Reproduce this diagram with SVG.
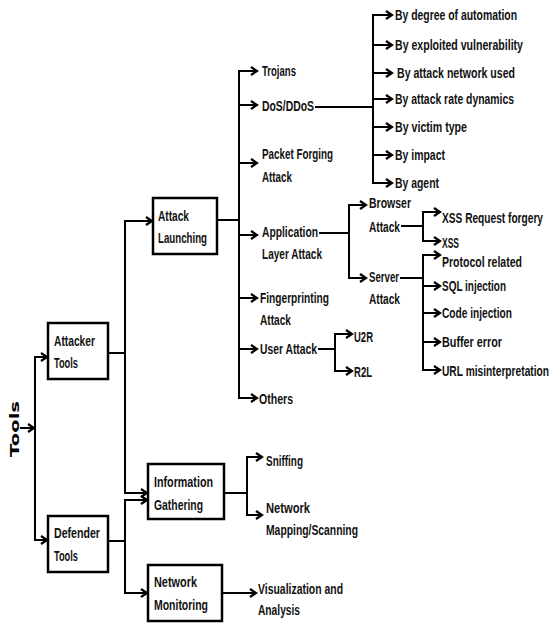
<svg xmlns="http://www.w3.org/2000/svg" width="551" height="625" viewBox="0 0 551 625">
<style>
text{font-family:"Liberation Sans",Arial,sans-serif;font-weight:bold;font-size:15px;fill:#111}
.box{fill:#fff;stroke:#000;stroke-width:2.5}
.c path{fill:none;stroke:#000;stroke-width:2}
</style>
<defs>
<marker id="ah" markerUnits="userSpaceOnUse" markerWidth="12" markerHeight="12" refX="8" refY="5" orient="auto">
<path d="M2,1 L8,5 L2,9" fill="none" stroke="#000" stroke-width="2.2"/>
</marker>
</defs>
<rect width="551" height="625" fill="#fff"/>
<g class="c" id="connectors">
<path d="M20,428 H34" marker-end="url(#ah)"/>
<path d="M35,428 V357 H47" marker-end="url(#ah)"/>
<path d="M35,428 V540 H47" marker-end="url(#ah)"/>
<path d="M108,353 H125 V221 H152" marker-end="url(#ah)"/>
<path d="M125,353 V493 H147" marker-end="url(#ah)"/>
<path d="M108,541 H125 V500 H147" marker-end="url(#ah)"/>
<path d="M125,541 V593 H147" marker-end="url(#ah)"/>
<path d="M217,220 H239 V71 H257" marker-end="url(#ah)"/>
<path d="M239,220 V398 H257" marker-end="url(#ah)"/>
<path d="M239,105 H257" marker-end="url(#ah)"/>
<path d="M239,163 H257" marker-end="url(#ah)"/>
<path d="M239,235 H257" marker-end="url(#ah)"/>
<path d="M239,298 H257" marker-end="url(#ah)"/>
<path d="M239,349 H257" marker-end="url(#ah)"/>
<path d="M315,107 H373 V15 H392" marker-end="url(#ah)"/>
<path d="M373,107 V183 H392" marker-end="url(#ah)"/>
<path d="M373,45 H392" marker-end="url(#ah)"/>
<path d="M373,73 H392" marker-end="url(#ah)"/>
<path d="M373,99 H392" marker-end="url(#ah)"/>
<path d="M373,127 H392" marker-end="url(#ah)"/>
<path d="M373,155 H392" marker-end="url(#ah)"/>
<path d="M319,233 H349 V205 H366" marker-end="url(#ah)"/>
<path d="M349,233 V278 H366" marker-end="url(#ah)"/>
<path d="M401,226 H423 V212 H440" marker-end="url(#ah)"/>
<path d="M423,226 V241 H440" marker-end="url(#ah)"/>
<path d="M400,278 H423 V255 H440" marker-end="url(#ah)"/>
<path d="M423,278 V370 H440" marker-end="url(#ah)"/>
<path d="M423,286 H440" marker-end="url(#ah)"/>
<path d="M423,313 H440" marker-end="url(#ah)"/>
<path d="M423,342 H440" marker-end="url(#ah)"/>
<path d="M318,349 H335 V334 H352" marker-end="url(#ah)"/>
<path d="M335,349 V371 H352" marker-end="url(#ah)"/>
<path d="M224,493 H247 V457 H262" marker-end="url(#ah)"/>
<path d="M247,493 V515 H262" marker-end="url(#ah)"/>
<path d="M222,593 H256" marker-end="url(#ah)"/>
</g>
<g id="tools"><text transform="translate(18.5,429) rotate(-90)" text-anchor="middle" style="font-family:'DejaVu Sans',sans-serif;font-weight:900;font-size:12px;fill:#000" textLength="56" lengthAdjust="spacingAndGlyphs">Tools</text></g>
<g id="attacker"><rect class="box" x="48" y="323" width="60" height="56"/><text x="54" y="346" textLength="41" lengthAdjust="spacingAndGlyphs">Attacker</text><text x="54" y="368" textLength="24" lengthAdjust="spacingAndGlyphs">Tools</text></g>
<g id="defender"><rect class="box" x="48" y="516" width="60" height="56"/><text x="54" y="538" textLength="46" lengthAdjust="spacingAndGlyphs">Defender</text><text x="54" y="561" textLength="24" lengthAdjust="spacingAndGlyphs">Tools</text></g>
<g id="attack-launching"><rect class="box" x="153" y="198" width="64" height="56"/><text x="158" y="221" textLength="31" lengthAdjust="spacingAndGlyphs">Attack</text><text x="158" y="243" textLength="49" lengthAdjust="spacingAndGlyphs">Launching</text></g>
<g id="info-gathering"><rect class="box" x="148" y="464" width="76" height="55"/><text x="154" y="487" textLength="59" lengthAdjust="spacingAndGlyphs">Information</text><text x="154" y="510" textLength="49" lengthAdjust="spacingAndGlyphs">Gathering</text></g>
<g id="network-monitoring"><rect class="box" x="148" y="565" width="74" height="56"/><text x="154" y="587" textLength="43" lengthAdjust="spacingAndGlyphs">Network</text><text x="154" y="610" textLength="54" lengthAdjust="spacingAndGlyphs">Monitoring</text></g>
<g id="trojans"><text x="262" y="76" textLength="34" lengthAdjust="spacingAndGlyphs">Trojans</text></g>
<g id="dos"><text x="262" y="111" textLength="52" lengthAdjust="spacingAndGlyphs">DoS/DDoS</text></g>
<g id="packet-forging"><text x="262" y="159" textLength="71" lengthAdjust="spacingAndGlyphs">Packet Forging</text><text x="262" y="182" textLength="30" lengthAdjust="spacingAndGlyphs">Attack</text></g>
<g id="application"><text x="262" y="237" textLength="56" lengthAdjust="spacingAndGlyphs">Application</text><text x="262" y="259" textLength="60" lengthAdjust="spacingAndGlyphs">Layer Attack</text></g>
<g id="fingerprinting"><text x="260" y="303" textLength="69" lengthAdjust="spacingAndGlyphs">Fingerprinting</text><text x="260" y="325" textLength="31" lengthAdjust="spacingAndGlyphs">Attack</text></g>
<g id="user-attack"><text x="260" y="354" textLength="57" lengthAdjust="spacingAndGlyphs">User Attack</text></g>
<g id="others"><text x="259" y="404" textLength="34" lengthAdjust="spacingAndGlyphs">Others</text></g>
<g id="by-automation"><text transform="translate(395,20) scale(0.68,1)" textLength="179.4" lengthAdjust="spacingAndGlyphs">By degree of automation</text></g>
<g id="by-vulnerability"><text transform="translate(395,50) scale(0.68,1)" textLength="188.2" lengthAdjust="spacingAndGlyphs">By exploited vulnerability</text></g>
<g id="by-network"><text transform="translate(397,78) scale(0.68,1)" textLength="173.5" lengthAdjust="spacingAndGlyphs">By attack network used</text></g>
<g id="by-rate"><text transform="translate(395,104) scale(0.68,1)" textLength="175" lengthAdjust="spacingAndGlyphs">By attack rate dynamics</text></g>
<g id="by-victim"><text transform="translate(395,132) scale(0.68,1)" textLength="105.9" lengthAdjust="spacingAndGlyphs">By victim type</text></g>
<g id="by-impact"><text transform="translate(395,160) scale(0.68,1)" textLength="73.5" lengthAdjust="spacingAndGlyphs">By impact</text></g>
<g id="by-agent"><text transform="translate(395,188) scale(0.68,1)" textLength="64.7" lengthAdjust="spacingAndGlyphs">By agent</text></g>
<g id="browser"><text x="369" y="208" textLength="42" lengthAdjust="spacingAndGlyphs">Browser</text><text x="369" y="232" textLength="31" lengthAdjust="spacingAndGlyphs">Attack</text></g>
<g id="server"><text x="369" y="282" textLength="30" lengthAdjust="spacingAndGlyphs">Server</text><text x="369" y="304" textLength="31" lengthAdjust="spacingAndGlyphs">Attack</text></g>
<g id="xss-rf"><text transform="translate(442,223) scale(0.68,1)" textLength="148.5" lengthAdjust="spacingAndGlyphs">XSS Request forgery</text></g>
<g id="xss"><text transform="translate(442,248) scale(0.68,1)" textLength="25" lengthAdjust="spacingAndGlyphs">XSS</text></g>
<g id="protocol"><text transform="translate(442,267) scale(0.68,1)" textLength="117.6" lengthAdjust="spacingAndGlyphs">Protocol related</text></g>
<g id="sql"><text transform="translate(442,291) scale(0.68,1)" textLength="94.1" lengthAdjust="spacingAndGlyphs">SQL injection</text></g>
<g id="code"><text transform="translate(442,318) scale(0.68,1)" textLength="102.9" lengthAdjust="spacingAndGlyphs">Code injection</text></g>
<g id="buffer"><text transform="translate(442,347) scale(0.68,1)" textLength="88.2" lengthAdjust="spacingAndGlyphs">Buffer error</text></g>
<g id="url"><text transform="translate(442,376) scale(0.68,1)" textLength="157.4" lengthAdjust="spacingAndGlyphs">URL misinterpretation</text></g>
<g id="u2r"><text x="354" y="342" textLength="19" lengthAdjust="spacingAndGlyphs">U2R</text></g>
<g id="r2l"><text x="354" y="377" textLength="18" lengthAdjust="spacingAndGlyphs">R2L</text></g>
<g id="sniffing"><text x="266" y="466" textLength="37" lengthAdjust="spacingAndGlyphs">Sniffing</text></g>
<g id="mapping"><text x="266" y="513" textLength="44" lengthAdjust="spacingAndGlyphs">Network</text><text x="266" y="535" textLength="92" lengthAdjust="spacingAndGlyphs">Mapping/Scanning</text></g>
<g id="visualization"><text x="258" y="594" textLength="85" lengthAdjust="spacingAndGlyphs">Visualization and</text><text x="258" y="615" textLength="42" lengthAdjust="spacingAndGlyphs">Analysis</text></g>
</svg>
